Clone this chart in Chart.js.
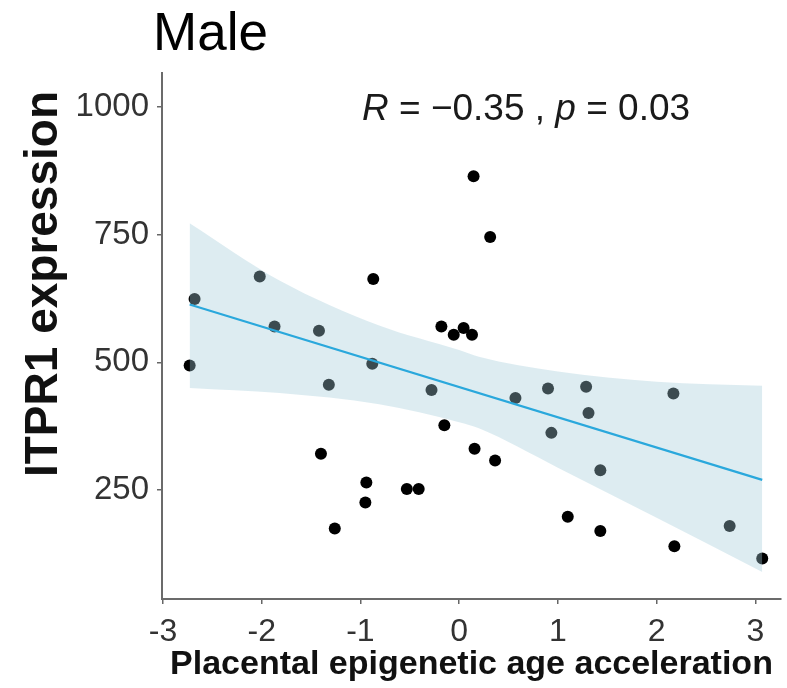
<!DOCTYPE html>
<html>
<head>
<meta charset="utf-8">
<script src="https://cdn.jsdelivr.net/npm/chart.js@4.4.0/dist/chart.umd.min.js"></script>
<style>
  html, body { margin: 0; padding: 0; background: #fff; }
</style>
</head>
<body>
<canvas id="myChart" width="787" height="688"></canvas>
<script>
// points
const accelX = [-2.73, -2.68, -2.02, -1.87, -1.42, -1.40, -1.32, -1.26, -0.95, -0.94, -0.88, -0.87,
  -0.53, -0.41, -0.28, -0.18, -0.15, -0.055, 0.045, 0.13, 0.146, 0.156, 0.314, 0.364,
  0.57, 0.90, 0.934, 1.10, 1.286, 1.31, 1.43, 1.43, 2.17, 2.18, 2.74, 3.07];
const itpr1Y = [494, 624, 668, 570, 562, 321, 456, 175, 226, 265, 497, 663,
  252, 252, 446, 570, 377, 554, 567, 554, 864, 331, 745, 308,
  430, 449, 362, 198, 452, 401, 289, 170, 439, 140, 180, 116];

// fitted line and confidence band
const fitX = [-2.73, 3.07];
const fitY = [613, 270];
const bandX = [-2.73, -1.82, -0.81, 0, 0.2, 1, 2, 3.07];
const bandLow = [450, 440, 418, 383, 371, 294, 196, 90];
const bandHigh = [772, 660, 572, 524, 511, 482, 462, 454];

const xTicks = [-3, -2, -1, 0, 1, 2, 3];
const yTicks = [250, 500, 750, 1000];

const FONT = '"Liberation Sans", Arial, Helvetica, sans-serif';

const pts = (xs, ys) => xs.map((x, i) => ({ x: x, y: ys[i] }));

// title, rotated y title and the R / p label
const extraText = {
  id: 'extraText',
  afterDraw(chart) {
    const ctx = chart.ctx;
    ctx.save();
    ctx.fillStyle = '#000';
    ctx.textBaseline = 'alphabetic';
    ctx.textAlign = 'left';
    ctx.font = '53px ' + FONT;
    ctx.fillText('Male', 153, 50);

    // R = -0.35 , p = 0.03 (italic R and p)
    const parts = [
      ['italic', 'R'],
      ['normal', ' = \u22120.35 , '],
      ['italic', 'p'],
      ['normal', ' = 0.03']
    ];
    let x = 362;
    ctx.fillStyle = '#1a1a1a';
    parts.forEach(([style, txt]) => {
      ctx.font = style + ' 37px ' + FONT;
      ctx.fillText(txt, x, 120);
      x += ctx.measureText(txt).width;
    });

    ctx.translate(44, 284);
    ctx.rotate(-Math.PI / 2);
    ctx.font = 'bold 46px ' + FONT;
    ctx.textAlign = 'center';
    ctx.textBaseline = 'middle';
    ctx.fillStyle = '#111';
    ctx.fillText('ITPR1 expression', 0, 0);
    ctx.restore();
  }
};

const ctx = document.getElementById('myChart').getContext('2d');
new Chart(ctx, {
  type: 'scatter',
  data: {
    datasets: [
      {
        label: 'points',
        data: pts(accelX, itpr1Y),
        backgroundColor: '#000',
        borderWidth: 0,
        pointRadius: 6,
        order: 4
      },
      {
        type: 'line',
        label: 'lower',
        data: pts(bandX, bandLow),
        borderWidth: 0,
        pointRadius: 0,
        fill: false,
        cubicInterpolationMode: 'monotone',
        order: 3
      },
      {
        type: 'line',
        label: 'upper',
        data: pts(bandX, bandHigh),
        borderWidth: 0,
        pointRadius: 0,
        backgroundColor: 'rgba(162, 203, 216, 0.37)',
        fill: '-1',
        cubicInterpolationMode: 'monotone',
        order: 2
      },
      {
        type: 'line',
        label: 'fit',
        data: pts(fitX, fitY),
        borderColor: '#2aa8dc',
        borderWidth: 2.2,
        pointRadius: 0,
        fill: false,
        order: 1
      }
    ]
  },
  options: {
    responsive: false,
    animation: false,
    devicePixelRatio: 1,
    layout: { padding: { top: 73, right: 1, left: 0, bottom: 0 } },
    plugins: {
      legend: { display: false },
      tooltip: { enabled: false },
      title: { display: false }
    },
    scales: {
      x: {
        type: 'linear',
        min: -3.01,
        max: 3.26,
        afterBuildTicks: (s) => { s.ticks = xTicks.map(v => ({ value: v })); },
        afterFit: (s) => { s.height = 89; },
        grid: { drawOnChartArea: false, drawTicks: true, tickLength: 5, color: '#666', lineWidth: 1.5 },
        border: { display: true, color: '#6b6b6b', width: 2 },
        ticks: {
          padding: 9,
          color: '#333',
          font: { family: FONT, size: 32 },
          callback: (v) => String(v)
        },
        title: {
          display: true,
          text: 'Placental epigenetic age acceleration',
          color: '#111',
          font: { family: FONT, size: 34, weight: 'bold' },
          padding: { top: 0, bottom: 3 }
        }
      },
      y: {
        type: 'linear',
        min: 37,
        max: 1066,
        afterBuildTicks: (s) => { s.ticks = yTicks.map(v => ({ value: v })); },
        afterFit: (s) => { s.width = 162; },
        grid: { drawOnChartArea: false, drawTicks: true, tickLength: 5, color: '#666', lineWidth: 1.5 },
        border: { display: true, color: '#6b6b6b', width: 2 },
        ticks: {
          padding: 8,
          color: '#333',
          font: { family: FONT, size: 33 },
          callback: (v) => String(v)
        }
      }
    }
  },
  plugins: [extraText]
});
</script>
</body>
</html>
